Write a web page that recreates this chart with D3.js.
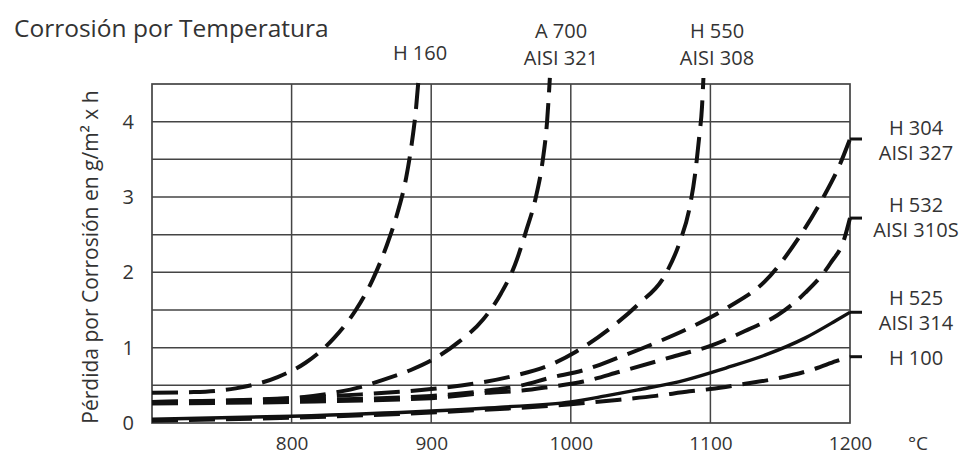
<!DOCTYPE html>
<html><head><meta charset="utf-8">
<script src="https://cdn.jsdelivr.net/npm/d3@7"></script>
<style>
html,body{margin:0;padding:0;background:#fff;}
text{font-family:"Open Sans","Noto Sans",sans-serif;fill:#333;}
</style></head>
<body>
<svg id="chart" width="960" height="457"></svg>
<script>
// ---- data ----
const title = "Corrosión por Temperatura";
const yTitle = "Pérdida por Corrosión en g/m² x h";
const xUnit = "°C";
const xTicks = [800, 900, 1000, 1100, 1200];
const yTicks = [0, 1, 2, 3, 4];
const yGrid = [0.5, 1, 1.5, 2, 2.5, 3, 3.5, 4];
const xGrid = [800, 900, 1000, 1100];

const h160 = [[700,0.40],[730,0.41],[760,0.46],[790,0.61],[810,0.80],[830,1.12],[846,1.50],[858,1.90],[868,2.35],[876,2.80],[882,3.25],[886,3.70],[889,4.15],[891,4.58]];
const a700 = [[700,0.28],[760,0.30],[800,0.33],[830,0.40],[850,0.48],[865,0.57],[885,0.70],[901,0.84],[920,1.08],[937,1.37],[950,1.72],[960,2.10],[968,2.55],[975,3.00],[980,3.50],[983,4.00],[985,4.58]];
const h550 = [[700,0.28],[800,0.33],[850,0.38],[900,0.45],[930,0.52],[960,0.63],[985,0.77],[1004,0.95],[1027,1.24],[1048,1.57],[1068,1.98],[1078,2.40],[1085,2.85],[1089,3.30],[1092,3.80],[1094,4.20],[1095,4.58]];
const h304 = [[700,0.27],[800,0.30],[900,0.36],[940,0.43],[965,0.50],[985,0.60],[1009,0.70],[1033,0.86],[1059,1.05],[1087,1.28],[1113,1.54],[1139,1.88],[1163,2.45],[1181,3.00],[1192,3.40],[1200,3.77]];
const h532 = [[700,0.26],[800,0.28],[900,0.33],[940,0.40],[965,0.43],[985,0.48],[1009,0.55],[1035,0.68],[1073,0.88],[1101,1.03],[1127,1.24],[1148,1.43],[1168,1.73],[1186,2.12],[1196,2.45],[1200,2.72]];
const h525 = [[700,0.05],[800,0.09],[900,0.16],[950,0.21],[1000,0.28],[1025,0.36],[1048,0.44],[1082,0.57],[1111,0.73],[1139,0.90],[1168,1.13],[1190,1.36],[1200,1.47]];
const h100 = [[700,0.03],[800,0.07],[900,0.14],[1000,0.25],[1035,0.31],[1061,0.36],[1085,0.42],[1100,0.45],[1125,0.52],[1150,0.60],[1175,0.72],[1190,0.82],[1200,0.88]];

const series = [
  {name:"H 160", data:h160, dash:true},
  {name:"A 700", data:a700, dash:true},
  {name:"H 550", data:h550, dash:true},
  {name:"H 304", data:h304, dash:true},
  {name:"H 532", data:h532, dash:true},
  {name:"H 525", data:h525, dash:false},
  {name:"H 100", data:h100, dash:true}
];
const topLabels = [["H 160"], ["A 700","AISI 321"], ["H 550","AISI 308"]];
const rightLabels = [["H 304","AISI 327"], ["H 532","AISI 310S"], ["H 525","AISI 314"], ["H 100"]];
const rightTickValues = [3.77, 2.72, 1.47, 0.88];

// ---- layout ----
const svg = d3.select("#chart");
const L = 152, R = 850, T = 84, B = 423;
const x = d3.scaleLinear().domain([700, 1200]).range([L, R]);
const y = d3.scaleLinear().domain([0, 4.5]).range([B, T]);
const gridColor = "#444";
const FS = 20;

// grid
svg.append("g").selectAll("line").data(yGrid).join("line")
  .attr("x1", L).attr("x2", R).attr("y1", d => y(d)).attr("y2", d => y(d))
  .attr("stroke", gridColor).attr("stroke-width", 1.5);
svg.append("g").selectAll("line").data(xGrid).join("line")
  .attr("y1", T).attr("y2", B).attr("x1", d => x(d)).attr("x2", d => x(d))
  .attr("stroke", gridColor).attr("stroke-width", 1.5);
svg.append("rect").attr("x", L).attr("y", T).attr("width", R - L).attr("height", B - T)
  .attr("fill", "none").attr("stroke", gridColor).attr("stroke-width", 1.7);

// axes labels via d3 axes (domain/tick lines hidden)
const xAxis = svg.append("g").attr("transform", `translate(0,${B})`)
  .call(d3.axisBottom(x).tickValues(xTicks).tickFormat(d3.format("d")).tickSize(0).tickPadding(0));
xAxis.select(".domain").remove();
xAxis.selectAll("text").attr("font-size", 19).attr("font-family", "Open Sans").attr("fill", "#333")
  .attr("dy", null).attr("y", 27);

const yAxis = svg.append("g").attr("transform", `translate(${L},0)`)
  .call(d3.axisLeft(y).tickValues(yTicks).tickFormat(d3.format("d")).tickSize(0).tickPadding(18));
yAxis.select(".domain").remove();
yAxis.selectAll("text").attr("font-size", FS).attr("font-family", "Open Sans").attr("fill", "#333");

svg.append("text").attr("x", 918).attr("y", 450).attr("text-anchor", "middle")
  .attr("font-size", 19).text(xUnit);

// title
svg.append("text").attr("x", 14).attr("y", 37).attr("font-size", 24.5).text(title);

// y title
svg.append("text").attr("transform", "translate(98,257) rotate(-90)")
  .attr("text-anchor", "middle").attr("font-size", 21).text(yTitle);

// curves
const line = d3.line().x(d => x(d[0])).y(d => y(d[1])).curve(d3.curveMonotoneX);
svg.append("g").selectAll("path").data(series).join("path")
  .attr("d", d => line(d.data))
  .attr("fill", "none").attr("stroke", "#111")
  .attr("stroke-width", d => d.dash ? 4 : 3.4)
  .attr("stroke-dasharray", d => d.dash ? "26,11" : null)
  .attr("stroke-linecap", "butt");

// right ticks + labels
svg.append("g").selectAll("line").data(rightTickValues).join("line")
  .attr("x1", R).attr("x2", R + 12).attr("y1", d => y(d)).attr("y2", d => y(d))
  .attr("stroke", "#111").attr("stroke-width", 3);
const rightBase = [135, 212, 305, 365];
rightLabels.forEach((lines, k) => {
  lines.forEach((t, i) => {
    svg.append("text").attr("x", 916).attr("y", rightBase[k] + i * 25)
      .attr("text-anchor", "middle").attr("font-size", FS).text(t);
  });
});

// top labels
const topPos = [{x: 420, y: 60}, {x: 561, y: 38}, {x: 717, y: 38}];
topLabels.forEach((lines, k) => {
  lines.forEach((s, i) => {
    svg.append("text").attr("x", topPos[k].x).attr("y", topPos[k].y + i * 27)
      .attr("text-anchor", "middle").attr("font-size", FS).text(s);
  });
});
</script>
</body></html>
